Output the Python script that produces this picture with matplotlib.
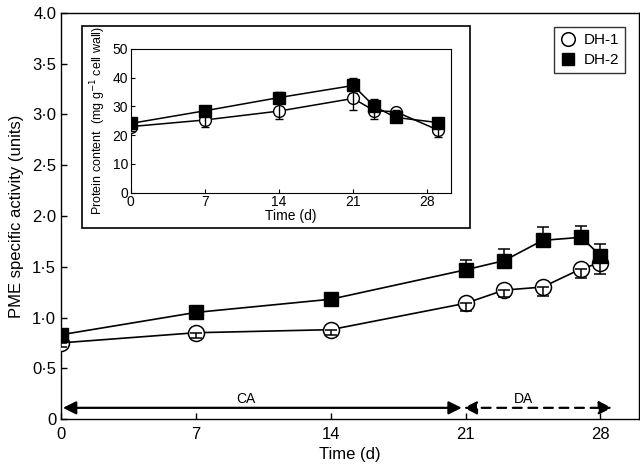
import matplotlib
matplotlib.use("Agg")
import matplotlib.pyplot as plt
from matplotlib.patches import Rectangle, FancyArrowPatch

# Main chart data
days = [0, 7, 14, 21, 23, 25, 27, 28]
dh1 = [0.75, 0.85, 0.88, 1.14, 1.27, 1.30, 1.48, 1.54]
dh1_err = [0.04, 0.05, 0.05, 0.08, 0.07, 0.09, 0.09, 0.11]
dh2 = [0.83, 1.05, 1.18, 1.47, 1.56, 1.76, 1.79, 1.61]
dh2_err = [0.03, 0.04, 0.06, 0.10, 0.11, 0.13, 0.11, 0.11]

# Inset data
in_days = [0, 7, 14, 21, 23, 25, 29]
in_dh1 = [23.0, 25.3, 28.4, 32.8, 28.5, 28.2, 21.8]
in_dh1_err = [1.5, 2.5, 2.8, 4.0, 3.0, 0.5, 2.5]
in_dh2 = [24.1, 28.5, 33.1, 37.3, 30.0, 26.2, 24.4]
in_dh2_err = [1.0, 1.5, 2.0, 2.7, 2.7, 0.5, 1.0]

yticks = [0, 0.5, 1.0, 1.5, 2.0, 2.5, 3.0, 3.5, 4.0]
ytick_labels = ['0', '0·5', '1·0', '1·5', '2·0', '2·5', '3·0', '3·5', '4.0']
xticks = [0, 7, 14, 21, 28]

plt.rcParams['font.family'] = ['Liberation Sans', 'DejaVu Sans']

fig = plt.figure(figsize=(6.4, 4.65), dpi=100)
ax = fig.add_axes([61/640, 1-419/465, (639-61)/640, (419-13)/465])

ms = 11.5
ax.plot(days, dh1, color='black', lw=1.2, zorder=2)
ax.plot(days, dh1, 'o', mfc='white', mec='black', mew=1.1, ms=ms, zorder=3, label='DH-1')
ax.errorbar(days, dh1, yerr=[dh1_err, [0]*len(dh1)], fmt='none', ecolor='black',
            elinewidth=1.1, capsize=4, capthick=1.1, zorder=4)
ax.errorbar(days, dh2, yerr=[[0]*len(dh2), dh2_err], fmt='none', ecolor='black',
            elinewidth=1.1, capsize=4, capthick=1.1, zorder=2)
ax.plot(days, dh2, color='black', lw=1.2, zorder=2)
ax.plot(days, dh2, 's', mfc='black', mec='black', ms=ms - 1.0, zorder=3, label='DH-2')

ax.set_xlim(0, 30)
ax.set_ylim(0, 4.0)
ax.set_xticks(xticks)
ax.set_yticks(yticks)
ax.set_yticklabels(ytick_labels)
ax.tick_params(direction='in', length=4, labelsize=12, width=1)
ax.tick_params(axis='x', pad=6)
for s in ax.spines.values():
    s.set_linewidth(1)
ax.set_xlabel('Time (d)', fontsize=12, labelpad=3)
ax.set_ylabel('PME specific activity (units)', fontsize=12, labelpad=6)

# Period arrows
arr_y = 0.11
a1 = FancyArrowPatch((0.1, arr_y), (20.8, arr_y), arrowstyle='<|-|>,head_length=6,head_width=3',
                     color='black', lw=1.6, shrinkA=0, shrinkB=0, mutation_scale=1.3)
ax.add_patch(a1)
a2 = FancyArrowPatch((20.9, arr_y), (28.6, arr_y), arrowstyle='<|-|>,head_length=6,head_width=3',
                     color='black', lw=1.6, linestyle=(0, (4, 3)), shrinkA=0, shrinkB=0,
                     mutation_scale=1.3)
ax.add_patch(a2)
ax.text(9.6, 0.2, 'CA', ha='center', va='center', fontsize=10)
ax.text(24.0, 0.2, 'DA', ha='center', va='center', fontsize=10)

leg = ax.legend(loc='upper right', bbox_to_anchor=(0.976, 0.966), borderaxespad=0,
                frameon=True, fancybox=False,
                edgecolor='black', fontsize=11, handlelength=1.0, handletextpad=0.5,
                borderpad=0.4, labelspacing=0.4, markerscale=0.85)
leg.get_frame().set_linewidth(1)

# Inset outer box
fig.patches.append(Rectangle((81.7/640, 1-227.7/465), (470-81.7)/640, (227.7-25.7)/465,
                             transform=fig.transFigure, fill=False, edgecolor='black', lw=1.2,
                             zorder=5))

ins = fig.add_axes([130.7/640, 1-192.7/465, 320/640, (192.7-49)/465])
ims = 8.5
ins.plot(in_days, in_dh1, color='black', lw=1.1, zorder=2)
ins.plot(in_days, in_dh1, 'o', mfc='white', mec='black', mew=1.0, ms=ims, zorder=3)
ins.errorbar(in_days, in_dh1, yerr=in_dh1_err, fmt='none', ecolor='black',
             elinewidth=1.0, capsize=3, capthick=1.0, zorder=4)
ins.errorbar(in_days, in_dh2, yerr=in_dh2_err, fmt='none', ecolor='black',
             elinewidth=1.0, capsize=3, capthick=1.0, zorder=2)
ins.plot(in_days, in_dh2, color='black', lw=1.1, zorder=2)
ins.plot(in_days, in_dh2, 's', mfc='black', mec='black', ms=ims - 0.5, zorder=3)
ins.set_xlim(0, 30.2)
ins.set_ylim(0, 50)
ins.set_xticks(xticks)
ins.set_yticks([0, 10, 20, 30, 40, 50])
ins.tick_params(direction='in', length=3, labelsize=10, pad=2)
ins.set_xlabel('Time (d)', fontsize=10, labelpad=0)
ins.set_ylabel('Protein content  (mg g$^{-1}$ cell wall)', fontsize=9, labelpad=3)

fig.savefig('out.png', dpi=100)
